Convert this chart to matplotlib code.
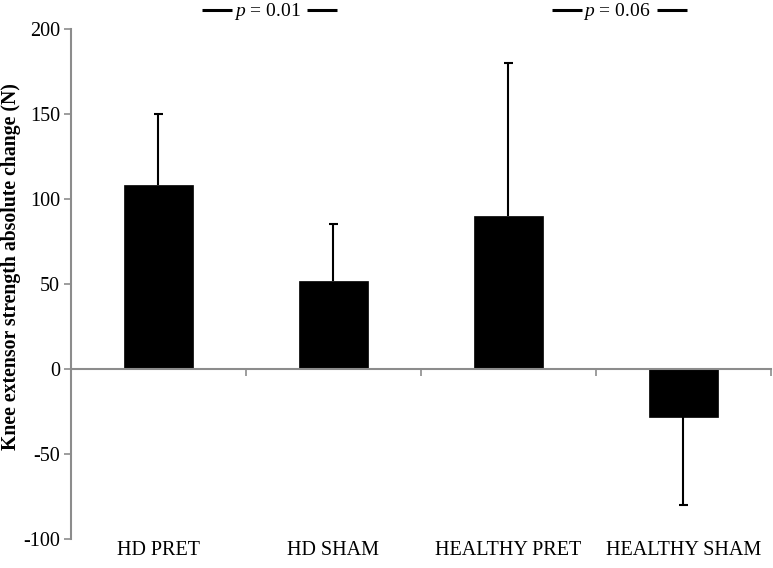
import matplotlib
matplotlib.use('Agg')
import matplotlib.pyplot as plt

plt.rcParams['font.family'] = ['Liberation Serif', 'DejaVu Serif']
plt.rcParams['mathtext.fontset'] = 'custom'
plt.rcParams['mathtext.rm'] = 'Liberation Serif'
plt.rcParams['mathtext.it'] = 'Liberation Serif:italic'

# data
groups = ['HD PRET', 'HD SHAM', 'HEALTHY PRET', 'HEALTHY SHAM']
change = [108, 52, 90, -28]
err = [42, 33, 90, 52]          # one-sided, away from zero
p_texts = ['$p$ = 0.01', '$p$ = 0.06']
p_pos = [0.62, 2.62]
yticks = [-100, -50, 0, 50, 100, 150, 200]

grey = '#8c8c8c'

fig = plt.figure(figsize=(7.73, 5.68), dpi=100)
ax = fig.add_axes([0.0918, 0.051, 0.9056, 0.898])

x = list(range(len(groups)))
ax.bar(x, change, width=0.39, color='black', edgecolor='black', linewidth=0.5, zorder=2)

# one-sided error bars (whisker + cap on the outer side only)
ends = [v + e if v >= 0 else v - e for v, e in zip(change, err)]
ax.vlines(x, change, ends, color='black', lw=1.5, zorder=3)
ax.hlines(ends, [xi - 0.025 for xi in x], [xi + 0.025 for xi in x], color='black', lw=1.5, zorder=3)

ax.set_xlim(-0.5, 3.5)
ax.set_ylim(-100, 200)
ax.set_yticks(yticks)
ax.set_yticklabels([str(t) for t in yticks], fontsize=14.5)

# x axis sits at zero, ticks mark group boundaries
ax.spines['bottom'].set_position(('data', 0))
ax.set_xticks([-0.5, 0.5, 1.5, 2.5, 3.5])
ax.set_xticklabels([])
ax.tick_params(axis='x', length=5, color=grey, width=1.2)
ax.tick_params(axis='y', length=5, color=grey, width=1.2, pad=3)
for s in ['top', 'right']:
    ax.spines[s].set_visible(False)
for s in ['left', 'bottom']:
    ax.spines[s].set_color(grey)
    ax.spines[s].set_linewidth(1.5)

for xi, g in zip(x, groups):
    ax.text(xi, -0.022, g, transform=ax.get_xaxis_transform(), ha='center', va='center', fontsize=14.5)

ax.set_ylabel('Knee extensor strength absolute change (N)', fontsize=14.2, fontweight='bold')
ax.yaxis.set_label_coords(-0.071, 0.535)

# p-value annotations above the plot
for px, t in zip(p_pos, p_texts):
    ax.text(px, 1.0255, t, transform=ax.get_xaxis_transform(), ha='center', va='baseline', fontsize=14)
    ax.plot([px - 0.371, px - 0.2], [1.037, 1.037], transform=ax.get_xaxis_transform(),
            color='black', lw=2.2, clip_on=False, solid_capstyle='butt')
    ax.plot([px + 0.229, px + 0.4], [1.037, 1.037], transform=ax.get_xaxis_transform(),
            color='black', lw=2.2, clip_on=False, solid_capstyle='butt')

fig.savefig('out.png', dpi=100)
